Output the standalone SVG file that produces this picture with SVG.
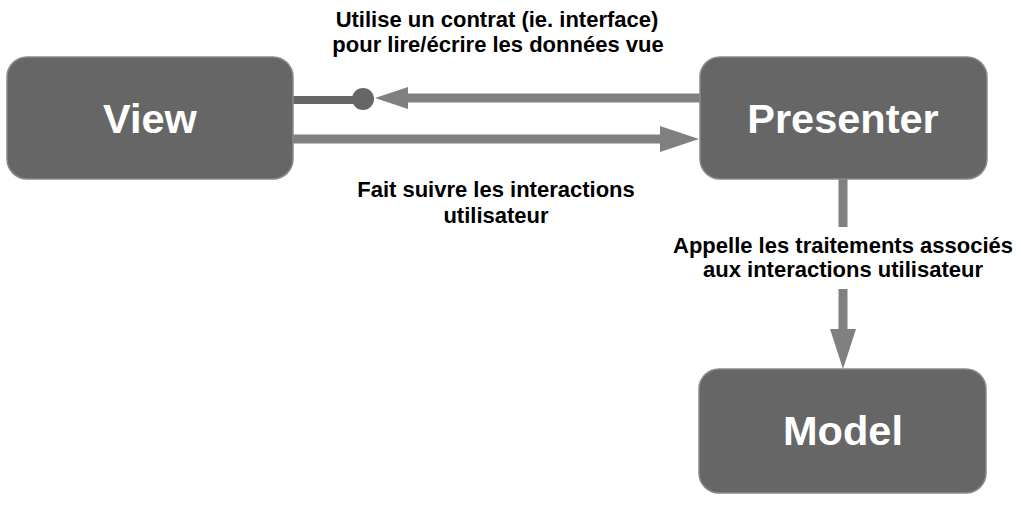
<svg xmlns="http://www.w3.org/2000/svg" width="1021" height="530" viewBox="0 0 1021 530">
  <style>
    .box { fill: #666666; stroke: #8a8a8a; stroke-width: 1.5; }
    .title { font-family: "Liberation Sans", Arial, sans-serif; font-weight: bold; font-size: 41.5px; fill: #ffffff; text-anchor: middle; }
    .lbl { font-family: "Liberation Sans", Arial, sans-serif; font-weight: bold; font-size: 22px; fill: #000000; text-anchor: middle; }
    .conn { stroke: #808080; stroke-width: 9; fill: none; }
    .head { fill: #808080; }
  </style>
  <rect width="1021" height="530" fill="#ffffff"/>
  <g id="connectors">
    <line x1="293" y1="100" x2="363" y2="100" stroke="#666666" stroke-width="8"/>
    <circle cx="363" cy="99" r="11" fill="#666666"/>
    <line class="conn" x1="700" y1="98" x2="405" y2="98"/>
    <polygon class="head" points="375,98 408,87 408,109"/>
    <line class="conn" x1="293" y1="139" x2="662" y2="139"/>
    <polygon class="head" points="699,139 660,126 660,152"/>
    <line class="conn" x1="843" y1="179" x2="843" y2="227"/>
    <line class="conn" x1="843" y1="289" x2="843" y2="331"/>
    <polygon class="head" points="843,369 830,329 856,329"/>
  </g>
  <g id="view">
    <rect class="box" x="7" y="57" width="286" height="122" rx="20"/>
    <text class="title" x="150" y="133">View</text>
  </g>
  <g id="presenter">
    <rect class="box" x="700" y="57" width="287" height="122" rx="20"/>
    <text class="title" x="843" y="133">Presenter</text>
  </g>
  <g id="model">
    <rect class="box" x="699" y="369" width="287" height="124" rx="20"/>
    <text class="title" x="843" y="445">Model</text>
  </g>
  <g id="labels">
    <text class="lbl" x="497" y="27">Utilise un contrat (ie. interface)</text>
    <text class="lbl" x="498" y="52">pour lire/écrire les données vue</text>
    <text class="lbl" x="496" y="197">Fait suivre les interactions</text>
    <text class="lbl" x="496" y="223">utilisateur</text>
    <text class="lbl" x="843" y="253">Appelle les traitements associés</text>
    <text class="lbl" x="843" y="277">aux interactions utilisateur</text>
  </g>
</svg>
